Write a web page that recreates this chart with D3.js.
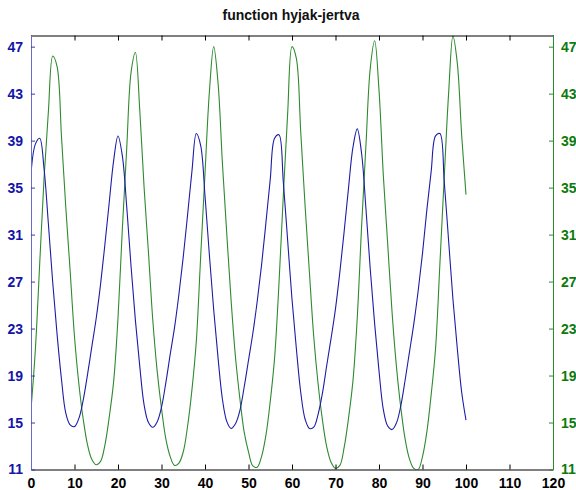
<!DOCTYPE html>
<html>
<head>
<meta charset="utf-8">
<script src="https://cdn.jsdelivr.net/npm/d3@7"></script>
<style>
  body { margin: 0; background: #fff; }
  text { font-family: "Liberation Sans", Arial, sans-serif; }
</style>
</head>
<body>
<svg id="chart" width="576" height="490"></svg>
<script>
// time axis 0..100, one reading per unit
const time = d3.range(0, 101);

// blue series (left axis)
const jertva = [
  36.2, 38.7, 39.2, 36.6, 31.9, 26.9, 22.5, 18.7, 15.8, 14.8,
  14.65, 15.35, 16.9, 19.1, 21.5, 23.9, 26.8, 30.2, 33.8, 37.3,
  39.4, 37.7, 33.4, 28.3, 23.7, 19.8, 16.5, 15.0, 14.6, 15.05,
  16.3, 18.4, 20.8, 23.1, 25.9, 29.1, 32.7, 36.4, 39.6, 38.6,
  34.3, 29.3, 24.6, 20.5, 17.0, 15.1, 14.5, 14.9, 16.0, 18.0,
  20.3, 22.6, 25.3, 28.4, 32.0, 35.7, 39.2, 39.5, 35.5, 30.5,
  25.5, 21.3, 17.6, 15.3, 14.5, 14.6, 15.7, 17.5, 19.9, 22.2,
  24.7, 27.8, 31.3, 35.0, 38.4, 40.0, 37.9, 33.2, 28.0, 23.4,
  19.4, 16.1, 14.7, 14.4, 14.95, 16.4, 18.6, 21.0, 23.4, 26.2,
  29.4, 33.1, 36.4, 39.4, 39.6, 35.5, 30.5, 25.5, 21.3, 17.6,
  15.2
];

// green series (right axis)
const hyjak = [
  16.1, 21.2, 28.5, 35.8, 41.5, 46.2, 45.3, 39.4, 33.3, 27.9,
  22.3, 18.3, 15.3, 13.1, 11.85, 11.4, 11.7, 13.1, 15.5, 18.5,
  23.9, 31.5, 38.3, 44.8, 46.5, 41.6, 35.0, 29.5, 23.7, 19.4,
  16.2, 13.6, 12.1, 11.35, 11.55, 12.5, 14.7, 17.8, 21.9, 29.1,
  36.2, 43.1, 47.0, 43.9, 37.1, 31.1, 25.4, 20.6, 17.1, 14.2,
  12.5, 11.3, 11.2, 12.1, 13.9, 16.8, 20.5, 26.8, 34.3, 41.3,
  47.0, 46.0, 39.8, 33.5, 27.8, 22.3, 18.3, 15.2, 12.9, 11.6,
  11.1, 11.35, 12.9, 15.4, 18.5, 23.9, 31.7, 38.6, 45.2, 47.5,
  43.3, 36.0, 30.2, 24.4, 19.8, 16.3, 13.6, 11.9, 11.1, 11.0,
  12.1, 14.2, 17.4, 21.3, 28.5, 35.9, 43.0, 47.9, 45.6, 39.5,
  34.4
];

const xTicks = [0, 10, 20, 30, 40, 50, 60, 70, 80, 90, 100, 110, 120];
const yTicks = [11, 15, 19, 23, 27, 31, 35, 39, 43, 47];

const title = "function hyjak-jertva";

const blue = "#1c1ca6", green = "#2e8a2e";
const blueText = "#1414a8", greenText = "#0c7a0c";

const margin = {left: 31, right: 23, top: 35.5, bottom: 20.5};
const W = 576, H = 490;

const svg = d3.select("#chart");

const x = d3.scaleLinear().domain([0, 120]).range([margin.left, W - margin.right]);
const yL = d3.scaleLinear().domain([11, 47.95]).range([H - margin.bottom, margin.top]);
const yR = d3.scaleLinear().domain([11, 47.95]).range([H - margin.bottom, margin.top]);

svg.append("clipPath").attr("id", "plot")
  .append("rect")
  .attr("x", margin.left).attr("y", margin.top)
  .attr("width", W - margin.left - margin.right)
  .attr("height", H - margin.top - margin.bottom);

// lines
const lineL = d3.line().x((d, i) => x(time[i])).y(d => yL(d)).curve(d3.curveCatmullRom);
const lineR = d3.line().x((d, i) => x(time[i])).y(d => yR(d)).curve(d3.curveCatmullRom);

svg.append("path").datum(hyjak)
  .attr("d", lineR)
  .attr("fill", "none").attr("stroke", green).attr("stroke-width", 1.1)
  .attr("clip-path", "url(#plot)");

svg.append("path").datum(jertva)
  .attr("d", lineL)
  .attr("fill", "none").attr("stroke", blue).attr("stroke-width", 1.1)
  .attr("clip-path", "url(#plot)");

// axes
const gBottom = svg.append("g")
  .attr("transform", `translate(0,${H - margin.bottom})`)
  .call(d3.axisBottom(x).tickValues(xTicks).tickSizeInner(-5).tickSizeOuter(0).tickPadding(9));
gBottom.select(".domain").attr("stroke", "#000");
gBottom.selectAll(".tick line").attr("stroke", "#000");
gBottom.selectAll("text").attr("font-size", 14).attr("font-weight", "bold").attr("fill", "#000");

const gTop = svg.append("g")
  .attr("transform", `translate(0,${margin.top})`)
  .call(d3.axisTop(x).tickValues(xTicks).tickSizeInner(-5).tickSizeOuter(0).tickFormat(""));
gTop.select(".domain").attr("stroke", "#000");
gTop.selectAll(".tick line").attr("stroke", "#000");

const gLeft = svg.append("g")
  .attr("transform", `translate(${margin.left},0)`)
  .call(d3.axisLeft(yL).tickValues(yTicks).tickSizeInner(-4).tickSizeOuter(0).tickPadding(8));
gLeft.select(".domain").attr("stroke", "#6a6ac8");
gLeft.selectAll(".tick line").attr("stroke", "#3a3ab8");
gLeft.selectAll("text").attr("font-size", 14).attr("font-weight", "bold").attr("fill", blueText);

const gRight = svg.append("g")
  .attr("transform", `translate(${W - margin.right},0)`)
  .call(d3.axisRight(yR).tickValues(yTicks).tickSizeInner(-4).tickSizeOuter(0).tickPadding(8));
gRight.select(".domain").attr("stroke", "#2e8a2e");
gRight.selectAll(".tick line").attr("stroke", "#2e8a2e");
gRight.selectAll("text").attr("font-size", 14).attr("font-weight", "bold").attr("fill", greenText);

svg.append("text")
  .attr("x", 291)
  .attr("y", 20)
  .attr("text-anchor", "middle")
  .attr("font-size", 14)
  .attr("font-weight", "bold")
  .attr("fill", "#111")
  .text(title);
</script>
</body>
</html>
